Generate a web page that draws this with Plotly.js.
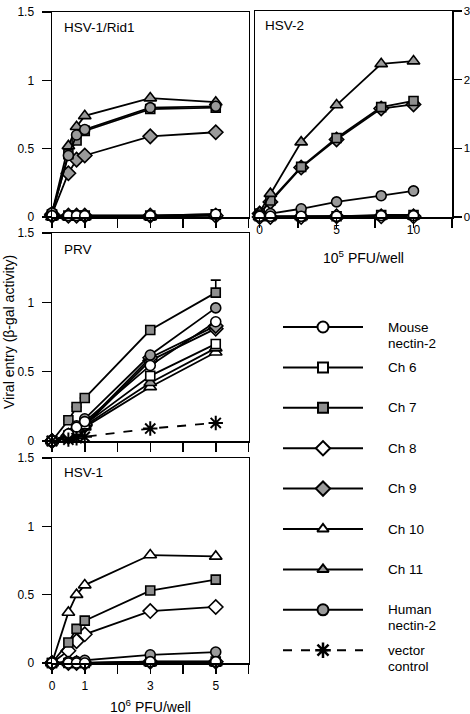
<!DOCTYPE html>
<html>
<head>
<meta charset="utf-8">
<script src="https://cdn.plot.ly/plotly-3.0.1.min.js"></script>
<style>
  html, body { margin: 0; padding: 0; background: #fff; }
  #chart { width: 470px; height: 714px; }
</style>
</head>
<body>
<div id="chart"></div>
<script>
// ---- doses ----
const doseLeft = [0, 0.5, 0.75, 1, 3, 5];        // 10^6 PFU/well
const doseHSV2 = [0, 0.7, 2.7, 5, 7.9, 10];      // 10^5 PFU/well

// ---- tick labels ----
const leftYTicks  = [0, 0.5, 1, 1.5];
const leftYText   = ['0', '0.5', '1', '1.5'];
const rightYTicks = [0, 1, 2, 3];
const rightYText  = ['0', '1', '2', '3'];
const doseTicks   = [0, 1, 3, 5];
const doseText    = ['0', '1', '3', '5'];
const doseMinor   = [2, 4, 6];
const hsv2Ticks   = [0, 5, 10];
const hsv2Text    = ['0', '5', '10'];
const hsv2Minor   = [2.5, 7.5, 12.5];

// ---- HSV-1/Rid1 ----
const rid1Mouse = [0.01, 0.01, 0.01, 0.01, 0.01, 0.02];
const rid1Ch6   = [0.01, 0.01, 0.01, 0.01, 0.01, 0.02];
const rid1Ch7   = [0.02, 0.46, 0.56, 0.63, 0.79, 0.80];
const rid1Ch8   = [0.01, 0.01, 0.01, 0.01, 0.01, 0.01];
const rid1Ch9   = [0.02, 0.32, 0.42, 0.45, 0.59, 0.62];
const rid1Ch10  = [0.00, 0.00, 0.00, 0.00, 0.00, 0.01];
const rid1Ch11  = [0.03, 0.52, 0.66, 0.74, 0.87, 0.84];
const rid1Human = [0.03, 0.45, 0.60, 0.64, 0.80, 0.81];

// ---- HSV-2 ----
const hsv2Mouse = [0.01, 0.01, 0.01, 0.01, 0.02, 0.02];
const hsv2Ch6   = [0.01, 0.01, 0.01, 0.01, 0.03, 0.03];
const hsv2Ch7   = [0.05, 0.24, 0.73, 1.15, 1.60, 1.69];
const hsv2Ch8   = [0.00, 0.00, 0.00, 0.01, 0.01, 0.01];
const hsv2Ch9   = [0.05, 0.22, 0.72, 1.13, 1.58, 1.64];
const hsv2Ch10  = [0.00, 0.00, 0.00, 0.01, 0.01, 0.01];
const hsv2Ch11  = [0.07, 0.34, 1.09, 1.63, 2.23, 2.27];
const hsv2Human = [0.03, 0.05, 0.12, 0.22, 0.31, 0.38];

// ---- PRV ----
const prvMouse  = [0.00, 0.05, 0.10, 0.14, 0.545, 0.86];
const prvCh6    = [0.00, 0.04, 0.08, 0.12, 0.47, 0.70];
const prvCh7    = [0.00, 0.15, 0.245, 0.31, 0.80, 1.07];
const prvCh7Err = [0, 0, 0, 0, 0, 0.09];
const prvCh8    = [0.00, 0.03, 0.07, 0.11, 0.58, 0.81];
const prvCh9    = [0.00, 0.04, 0.08, 0.12, 0.60, 0.83];
const prvCh10   = [0.00, 0.03, 0.06, 0.10, 0.39, 0.64];
const prvCh11   = [0.00, 0.03, 0.07, 0.11, 0.42, 0.67];
const prvHuman  = [0.00, 0.05, 0.11, 0.16, 0.62, 0.96];
const prvVector = [0.00, 0.01, 0.02, 0.03, 0.09, 0.13];

// ---- HSV-1 ----
const hsv1Mouse = [0.00, 0.00, 0.00, 0.00, 0.01, 0.01];
const hsv1Ch6   = [0.00, 0.00, 0.00, 0.00, 0.01, 0.01];
const hsv1Ch7   = [0.00, 0.15, 0.25, 0.31, 0.53, 0.61];
const hsv1Ch8   = [0.00, 0.09, 0.16, 0.21, 0.38, 0.41];
const hsv1Ch9   = [0.00, 0.00, 0.00, 0.00, 0.01, 0.01];
const hsv1Ch10  = [0.00, 0.37, 0.50, 0.57, 0.79, 0.78];
const hsv1Ch11  = [0.00, 0.00, 0.00, 0.00, 0.00, 0.00];
const hsv1Human = [0.00, 0.01, 0.01, 0.02, 0.06, 0.08];

// ---- legend labels ----
const legendKeys   = ['mouse', 'ch6', 'ch7', 'ch8', 'ch9', 'ch10', 'ch11', 'human', 'vector'];
const legendLabels = [['Mouse', 'nectin-2'], ['Ch 6'], ['Ch 7'], ['Ch 8'], ['Ch 9'],
                      ['Ch 10'], ['Ch 11'], ['Human', 'nectin-2'], ['vector', 'control']];

// ---- series styles ----
const GRAY = '#9a9a9a';
const SQGRAY = '#8e8e8e';
const styles = {
  mouse:  { symbol: 'circle',        fill: '#fff',  size: 10, legSize: 11, dash: 'solid' },
  ch6:    { symbol: 'square',        fill: '#fff',  size: 9,  legSize: 10, dash: 'solid' },
  ch7:    { symbol: 'square',        fill: SQGRAY,  size: 9,  legSize: 10, dash: 'solid' },
  ch8:    { symbol: 'diamond',       fill: '#fff',  size: 11, legSize: 11, dash: 'solid' },
  ch9:    { symbol: 'diamond',       fill: GRAY,    size: 11, legSize: 11, dash: 'solid' },
  ch10:   { symbol: 'triangle-up',   fill: '#fff',  size: 11, legSize: 10, dash: 'solid' },
  ch11:   { symbol: 'triangle-up',   fill: GRAY,    size: 11, legSize: 10, dash: 'solid' },
  human:  { symbol: 'circle',        fill: GRAY,    size: 10, legSize: 11, dash: 'solid' },
  vector: { symbol: 'asterisk-open', fill: '#000',  size: 12, legSize: 13, dash: 'dash' }
};

const FONT = 'Liberation Sans, Arial, Helvetica, sans-serif';
const traces = [];

function seriesTrace(key, xs, ys, xa, ya, err) {
  const s = styles[key];
  const t = {
    type: 'scatter', mode: 'lines+markers', x: xs, y: ys,
    xaxis: xa, yaxis: ya, cliponaxis: false, showlegend: false, hoverinfo: 'skip',
    line: { color: '#000', width: 1.8, dash: s.dash },
    marker: { symbol: s.symbol, size: s.size, color: s.fill,
              line: { color: '#000', width: key === 'vector' ? 2 : 1.6 } }
  };
  if (err) {
    t.error_y = { type: 'data', symmetric: false, array: err, arrayminus: err.map(() => 0),
                  color: '#000', thickness: 1.6, width: 5 };
  }
  return t;
}

// drawing order inside each panel (later ones on top)
function panel(xa, ya, xs, data) {
  data.forEach(d => traces.push(seriesTrace(d[0], xs, d[1], xa, ya, d[2])));
}

panel('x', 'y', doseLeft, [
  ['ch10', rid1Ch10], ['ch8', rid1Ch8], ['ch6', rid1Ch6], ['ch9', rid1Ch9],
  ['ch7', rid1Ch7], ['ch11', rid1Ch11], ['human', rid1Human], ['mouse', rid1Mouse]
]);
panel('x2', 'y2', doseHSV2, [
  ['ch10', hsv2Ch10], ['ch8', hsv2Ch8], ['ch9', hsv2Ch9], ['ch6', hsv2Ch6],
  ['ch7', hsv2Ch7], ['ch11', hsv2Ch11], ['human', hsv2Human], ['mouse', hsv2Mouse]
]);
panel('x3', 'y3', doseLeft, [
  ['ch10', prvCh10], ['ch11', prvCh11], ['ch8', prvCh8], ['ch9', prvCh9], ['ch6', prvCh6],
  ['ch7', prvCh7, prvCh7Err], ['human', prvHuman], ['mouse', prvMouse], ['vector', prvVector]
]);
panel('x4', 'y4', doseLeft, [
  ['ch11', hsv1Ch11], ['ch9', hsv1Ch9], ['ch6', hsv1Ch6], ['ch8', hsv1Ch8],
  ['ch7', hsv1Ch7], ['ch10', hsv1Ch10], ['human', hsv1Human], ['mouse', hsv1Mouse]
]);

// ---- legend, drawn on a pixel-unit overlay axis ----
const LEG_X0 = 283, LEG_X1 = 363, LEG_XM = 323, LEG_TX = 386;
const LEG_Y0 = 327, LEG_DY = 40.4, LINE_H = 16;
const annotations = [];
legendKeys.forEach((key, i) => {
  const s = styles[key];
  const y = LEG_Y0 + i * LEG_DY;
  traces.push({
    type: 'scatter', mode: 'lines', x: [LEG_X0, LEG_X1], y: [y, y],
    xaxis: 'x5', yaxis: 'y5', showlegend: false, hoverinfo: 'skip', cliponaxis: false,
    line: { color: '#000', width: 2, dash: s.dash }
  });
  traces.push({
    type: 'scatter', mode: 'markers', x: [LEG_XM], y: [y],
    xaxis: 'x5', yaxis: 'y5', showlegend: false, hoverinfo: 'skip', cliponaxis: false,
    marker: { symbol: s.symbol, size: s.legSize, color: s.fill,
              line: { color: '#000', width: key === 'vector' ? 2.5 : 2 } }
  });
  legendLabels[i].forEach((txt, j) => {
    annotations.push({ xref: 'x5', yref: 'y5', x: LEG_TX, y: y + j * LINE_H, text: txt,
      showarrow: false, xanchor: 'left', yanchor: 'middle',
      font: { family: FONT, size: 13.5, color: '#000' } });
  });
});

// panel names and axis titles
const labelFont = { family: FONT, size: 13.5, color: '#000' };
[['HSV-1/Rid1', 62, 27], ['HSV-2', 263, 25], ['PRV', 62, 249], ['HSV-1', 62, 472]]
  .forEach(p => annotations.push({ xref: 'x5', yref: 'y5', x: p[1], y: p[2], text: p[0],
    showarrow: false, xanchor: 'left', yanchor: 'middle', font: labelFont }));

annotations.push({ xref: 'x5', yref: 'y5', x: 9, y: 332, text: 'Viral entry (β-gal activity)',
  textangle: -90, showarrow: false, xanchor: 'center', yanchor: 'middle',
  font: { family: FONT, size: 14, color: '#000' } });
annotations.push({ xref: 'x5', yref: 'y5', x: 363, y: 257, text: '10<sup>5</sup> PFU/well',
  showarrow: false, xanchor: 'center', yanchor: 'middle',
  font: { family: FONT, size: 14, color: '#000' } });
annotations.push({ xref: 'x5', yref: 'y5', x: 150, y: 706, text: '10<sup>6</sup> PFU/well',
  showarrow: false, xanchor: 'center', yanchor: 'middle',
  font: { family: FONT, size: 14, color: '#000' } });

// ---- axes ----
const W = 470, H = 714;
const hx = (a, b) => [a / W, b / W];
const vy = (top, bottom) => [(H - bottom) / H, (H - top) / H];

const base = {
  showline: true, linecolor: '#000', linewidth: 1.5, mirror: true,
  ticks: 'outside', ticklen: 9, tickwidth: 1.5, tickcolor: '#000',
  showgrid: false, zeroline: false, fixedrange: true, tickmode: 'array',
  tickfont: { family: FONT, size: 12, color: '#000' }
};
const minorTicks = vals => ({ tickmode: 'array', tickvals: vals, ticks: 'outside',
  ticklen: 9, tickwidth: 1.5, tickcolor: '#000', showgrid: false });

const xLeft = (anchor, labels) => Object.assign({}, base, {
  anchor, domain: hx(52, 248.5), range: [0, 6], tickvals: doseTicks,
  ticktext: doseText, showticklabels: labels, ticklabelstandoff: 2,
  minor: minorTicks(doseMinor)
});
const yLeft = (anchor, top, bottom) => Object.assign({}, base, {
  anchor, domain: vy(top, bottom), range: [0, 1.5], tickvals: leftYTicks,
  ticktext: leftYText, ticklen: 9, ticklabelstandoff: 5
});

const layout = {
  width: W, height: H, margin: { l: 0, r: 0, t: 0, b: 0 },
  paper_bgcolor: '#fff', plot_bgcolor: 'rgba(0,0,0,0)', showlegend: false,
  xaxis:  xLeft('y', false),
  yaxis:  yLeft('x', 12, 217),
  xaxis2: Object.assign({}, base, { anchor: 'y2', domain: hx(255, 452), range: [-0.3, 12.5],
           tickvals: hsv2Ticks, ticktext: hsv2Text, ticklabelstandoff: -8,
           minor: minorTicks(hsv2Minor) }),
  yaxis2: Object.assign({}, base, { anchor: 'x2', side: 'right', domain: vy(11, 217),
           range: [0, 3], tickvals: rightYTicks, ticktext: rightYText, ticklen: 8,
           ticklabelstandoff: 0, tickfont: { family: FONT, size: 11.5, color: '#000' } }),
  xaxis3: xLeft('y3', false),
  yaxis3: yLeft('x3', 233, 441),
  xaxis4: xLeft('y4', true),
  yaxis4: yLeft('x4', 458, 663),
  xaxis5: { anchor: 'y5', domain: [0, 1], range: [0, W], visible: false, fixedrange: true },
  yaxis5: { anchor: 'x5', domain: [0, 1], range: [H, 0], visible: false, fixedrange: true },
  annotations
};

Plotly.newPlot('chart', traces, layout, { displayModeBar: false, staticPlot: true });
</script>
</body>
</html>
